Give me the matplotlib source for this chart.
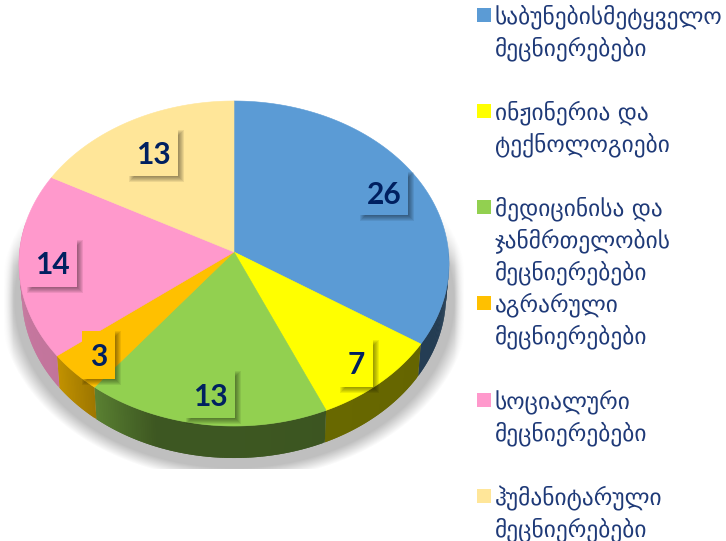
import matplotlib
matplotlib.use('Agg')

import numpy as np
import matplotlib.pyplot as plt
from matplotlib.patches import Polygon, Rectangle

# === Data ===
fields = [
    "საბუნებისმეტყველო\nმეცნიერებები",
    "ინჟინერია და\nტექნოლოგიები",
    "მედიცინისა და\nჯანმრთელობის\nმეცნიერებები",
    "აგრარული\nმეცნიერებები",
    "სოციალური\nმეცნიერებები",
    "ჰუმანიტარული\nმეცნიერებები",
]
counts = [26, 7, 13, 3, 14, 13]
colors = ["#5b9bd5", "#ffff00", "#92d050", "#ffc000", "#ff99cc", "#ffe699"]

# label boxes: left, top, right, bottom in pixels
label_boxes = [
    (360, 172, 408, 215),
    (340, 340, 373, 387),
    (186, 371, 235, 418),
    (82, 331, 115, 379),
    (27, 240, 77, 287),
    (129, 130, 178, 176),
]
legend_tops = [8, 104, 200, 296, 393, 489]

NAVY = "#002060"
LEGEND_TEXT = "#1f3a78"

# pie geometry in pixels
CX, CY = 234, 252
R_TOP, R_BOTTOM = 214.5, 211.5
K, P = 161.7, 0.0708
DEPTH = 32


def project(theta, radius=R_TOP, drop=0):
    # theta in radians, clockwise from 12 o'clock, slight perspective
    v = np.cos(theta)
    d = 1 + P * v
    return CX + radius * np.sin(theta) / d, CY - K * v / d + drop


def rim_shade(theta_deg):
    return np.interp(theta_deg, [90, 180, 200, 218, 232, 280],
                     [0.38, 0.42, 0.42, 0.62, 0.76, 0.80])


fig = plt.figure(figsize=(7.26, 5.41), dpi=100)
ax = fig.add_axes([0, 0, 1, 1])

# === Soft shadow behind the pie ===
xx, yy = np.meshgrid(np.arange(0, 480), np.arange(150, 469))
dist = np.sqrt(((xx - 234) / 236.0) ** 2 + ((yy - 300) / 180.0) ** 2)
alpha = np.clip((1.0 - dist) / 0.07, 0, 1) * np.clip((yy - 205) / 60.0, 0, 1)
alpha = alpha * np.clip((xx - 3) / 10.0, 0, 1) * np.clip((464 - xx) / 10.0, 0, 1)
shadow = np.zeros(xx.shape + (4,))
shadow[..., :3] = 0.5
shadow[..., 3] = alpha * 0.5
ax.imshow(shadow, extent=(0, 480, 469, 150), zorder=1, aspect="auto",
          interpolation="bilinear")
ax.set_xlim(0, 726)
ax.set_ylim(541, 0)
ax.axis("off")

# === Pie: rim first, then the top face ===
edges = np.cumsum([0] + counts) / sum(counts) * 2 * np.pi
for i, color in enumerate(colors):
    thetas = np.linspace(edges[i], edges[i + 1], max(counts[i] * 8, 16))
    base = np.array(matplotlib.colors.to_rgb(color))

    for k, (a, b) in enumerate(zip(thetas[:-1], thetas[1:])):
        deg = np.degrees((a + b) / 2)
        if deg < 90 or deg > 280:
            continue
        # each strip runs on under the next one, so no seams show
        end = thetas[min(k + 2, len(thetas) - 1)]
        xa, ya = project(a)
        xb, yb = project(end)
        xc, yc = project(end, R_BOTTOM, DEPTH)
        xd, yd = project(a, R_BOTTOM, DEPTH)
        shade = tuple(base * rim_shade(deg))
        ax.add_patch(Polygon([(xa, ya), (xb, yb), (xc, yc), (xd, yd)],
                             facecolor=shade, edgecolor="none", zorder=2))

    x, y = project(thetas)
    pts = [(CX, CY)] + list(zip(x, y))
    ax.add_patch(Polygon(pts, facecolor=color, edgecolor=color, lw=0.4, zorder=3))

# === Value labels with shadowed boxes ===
for value, color, (left, top, right, bottom) in zip(counts, colors, label_boxes):
    for grow in np.arange(3, -4, -1):
        ax.add_patch(Rectangle((left + 3 - grow, top + 3 - grow),
                               right - left + 2 * grow, bottom - top + 2 * grow,
                               facecolor="black", alpha=0.075, lw=0, zorder=4))
    ax.add_patch(Rectangle((left, top), right - left, bottom - top,
                           facecolor=color, edgecolor="none", zorder=5))
    ax.text((left + right) / 2, (top + bottom) / 2 + 2, str(value), color=NAVY,
            fontsize=21.5, fontweight="bold", family="Lato",
            ha="center", va="center", zorder=6)

# === Legend ===
for label, color, top in zip(fields, colors, legend_tops):
    ax.add_patch(Rectangle((477, top), 14, 14, facecolor=color, edgecolor="none"))
    for j, line in enumerate(label.split("\n")):
        ax.text(495, top + 9 + j * 32, line, color=LEGEND_TEXT, fontsize=16.8,
                family="DejaVu Sans", ha="left", va="center", clip_on=True)

fig.savefig("out.png", dpi=100)
